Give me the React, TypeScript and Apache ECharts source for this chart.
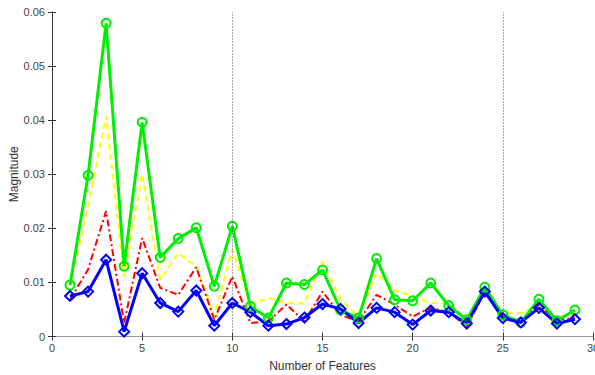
import React, { useEffect, useRef } from "react";
import * as echarts from "echarts";

const features = [1,2,3,4,5,6,7,8,9,10,11,12,13,14,15,16,17,18,19,20,21,22,23,24,25,26,27,28,29];
const greenValues = [0.0095,0.0298,0.0579,0.0130,0.0396,0.0146,0.0181,0.0201,0.0093,0.0204,0.0056,0.0034,0.0099,0.0096,0.0123,0.0049,0.0034,0.0144,0.0068,0.0066,0.0099,0.0057,0.0031,0.0091,0.0040,0.0026,0.0069,0.0029,0.0049];
const yellowValues = [0.0095,0.0240,0.0407,0.0111,0.0301,0.0105,0.0154,0.0130,0.0037,0.0161,0.0059,0.0071,0.0062,0.0061,0.0139,0.0068,0.0037,0.0117,0.0086,0.0074,0.0062,0.0062,0.0031,0.0086,0.0043,0.0043,0.0058,0.0034,0.0043];
const redValues = [0.0068,0.0124,0.0232,0.0025,0.0182,0.0090,0.0077,0.0128,0.0031,0.0111,0.0025,0.0028,0.0059,0.0028,0.0083,0.0040,0.0028,0.0077,0.0059,0.0037,0.0053,0.0045,0.0019,0.0081,0.0037,0.0029,0.0059,0.0031,0.0034];
const blueValues = [0.0075,0.0083,0.0142,0.0009,0.0117,0.0062,0.0046,0.0085,0.0020,0.0062,0.0045,0.0020,0.0023,0.0035,0.0060,0.0051,0.0025,0.0053,0.0045,0.0022,0.0048,0.0045,0.0024,0.0083,0.0034,0.0026,0.0053,0.0024,0.0032];
const markerLines = [10, 25];

const pairs = (vals: number[]) => features.map((f, i) => [f, vals[i]]);

export default function App() {
  const ref = useRef<HTMLDivElement>(null);
  useEffect(() => {
    if (!ref.current) return;
    const chart = echarts.init(ref.current, undefined, { renderer: "svg" });
    const axisColor = "#333";
    const labelStyle = { color: "#444", fontSize: 11, fontFamily: "Liberation Sans, Arial, sans-serif" };
    chart.setOption({
      animation: false,
      backgroundColor: "#fff",
      grid: { left: 52, right: 2, top: 12, bottom: 38.5, containLabel: false, outerBoundsMode: "none" },
      xAxis: [
        {
          type: "value", min: 0, max: 30, interval: 5,
          name: "Number of Features", nameLocation: "middle", nameGap: 23, nameMoveOverlap: false,
          nameTextStyle: { ...labelStyle, fontSize: 12, color: "#333" },
          axisLine: { lineStyle: { color: axisColor } },
          axisTick: { inside: true, length: 4, lineStyle: { color: axisColor } },
          axisLabel: { ...labelStyle, margin: 6 },
          splitLine: { show: false },
        },
        {
          type: "value", min: 0, max: 30, interval: 5, position: "top",
          axisLine: { show: true, lineStyle: { color: "#999" } },
          axisTick: { inside: true, length: 4, lineStyle: { color: axisColor } },
          axisLabel: { show: false },
          splitLine: { show: false },
        },
      ],
      yAxis: [
        {
          type: "value", min: 0, max: 0.06, interval: 0.01,
          name: "Magnitude", nameLocation: "middle", nameGap: 32, nameMoveOverlap: false,
          nameTextStyle: { ...labelStyle, fontSize: 12, color: "#333" },
          axisLine: { show: true, lineStyle: { color: axisColor } },
          axisTick: { show: true, inside: true, length: 4, lineStyle: { color: axisColor } },
          axisLabel: { ...labelStyle, margin: 7, formatter: (v: number) => (v === 0 ? "0" : v.toFixed(2)) },
          splitLine: { show: false },
        },
        {
          type: "value", min: 0, max: 0.06, interval: 0.01, position: "right",
          axisLine: { show: true, lineStyle: { color: axisColor } },
          axisTick: { show: true, inside: true, length: 4, lineStyle: { color: axisColor } },
          axisLabel: { show: false },
          splitLine: { show: false },
        },
      ],
      series: [
        {
          type: "line", data: [], silent: true,
          markLine: {
            symbol: "none", silent: true, label: { show: false },
            lineStyle: { color: "#555", type: [1, 2], width: 1 },
            data: markerLines.map((x) => ({ xAxis: x })),
          },
        },
        {
          type: "line", data: pairs(yellowValues), showSymbol: false, symbol: "none",
          lineStyle: { color: "#ffff00", width: 2, type: [6, 4] },
        },
        {
          type: "line", data: pairs(redValues), showSymbol: false, symbol: "none",
          lineStyle: { color: "#ff0000", width: 2, type: [7, 3, 2, 3] },
        },
        {
          type: "line", data: pairs(greenValues), symbol: "circle", symbolSize: 9,
          lineStyle: { color: "#00ee00", width: 3 },
          itemStyle: { color: "rgba(0,0,0,0)", borderColor: "#00ee00", borderWidth: 2 },
        },
        {
          type: "line", data: pairs(blueValues), symbol: "diamond", symbolSize: 10,
          lineStyle: { color: "#0000ff", width: 3 },
          itemStyle: { color: "rgba(0,0,0,0)", borderColor: "#0000ff", borderWidth: 2 },
        },
      ],
    });
    return () => chart.dispose();
  }, []);
  return (
    <div
      ref={ref}
      style={{ position: "fixed", left: 0, top: 0, width: 595, height: 375, background: "#fff" }}
    />
  );
}
